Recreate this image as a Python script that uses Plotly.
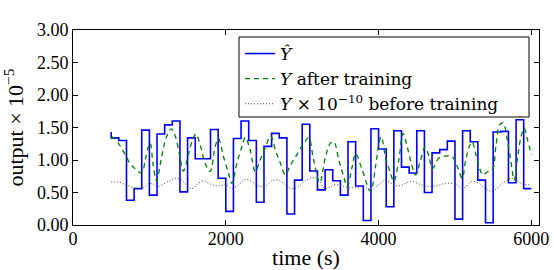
import plotly.graph_objects as go

# Y-hat step series (steps-pre: value at t applies to (t-100, t])
yhat_t = [500, 600, 700, 800, 900, 1000, 1100, 1200, 1300, 1400, 1500, 1600, 1700, 1800,
          1900, 2000, 2100, 2200, 2300, 2400, 2500, 2600, 2700, 2800, 2900, 3000, 3100,
          3200, 3300, 3400, 3500, 3600, 3700, 3800, 3900, 4000, 4100, 4200, 4300, 4400,
          4500, 4600, 4700, 4800, 4900, 5000, 5100, 5200, 5300, 5400, 5500, 5600, 5700,
          5800, 5900, 6000]
yhat_v = [1.43, 1.34, 1.30, 0.38, 0.56, 1.46, 0.46, 1.40, 1.54, 1.60, 0.51, 1.34, 1.02, 1.02,
          1.47, 0.72, 0.21, 1.33, 1.60, 1.30, 0.35, 1.21, 1.41, 1.34, 0.17, 0.69, 1.55,
          0.83, 0.54, 0.85, 0.68, 0.46, 1.28, 0.60, 0.07, 1.48, 1.17, 0.28, 1.45, 0.89,
          0.80, 1.45, 0.50, 1.11, 1.16, 1.29, 0.09, 1.45, 1.28, 0.69, 0.035, 1.43, 1.44,
          0.65, 1.62, 0.56]

# Y after training
yafter_t = [500, 550, 615, 680, 745, 810, 900, 945, 985, 1010, 1050, 1095, 1160, 1225, 1285,
            1340, 1400, 1445, 1510, 1570, 1610, 1665, 1730, 1795, 1860, 1905, 1970, 2035,
            2080, 2145, 2210, 2255, 2320, 2385, 2450, 2515, 2585, 2650, 2715, 2780, 2845,
            2930, 3020, 3085, 3150, 3230, 3305, 3370, 3415, 3480, 3545, 3590, 3655, 3700,
            3785, 3895, 3960, 4005, 4035, 4090, 4155, 4200, 4265, 4320, 4375, 4440, 4485,
            4550, 4610, 4660, 4705, 4790, 4880, 4965, 5030, 5095, 5140, 5185, 5225, 5270,
            5315, 5365, 5425, 5490, 5535, 5585, 5630, 5685, 5730, 5775, 5815, 5860, 5905,
            5950, 6000]
yafter_v = [1.36, 1.33, 1.22, 1.09, 0.95, 0.87, 0.80, 1.00, 1.20, 1.26, 0.92, 0.68, 1.05, 1.36, 1.48,
            1.36, 1.05, 0.83, 1.08, 1.33, 1.40, 1.23, 0.95, 0.82, 1.20, 1.33, 1.05, 0.80,
            0.64, 0.95, 1.20, 1.35, 1.15, 0.82, 1.00, 1.18, 1.37, 1.15, 0.95, 0.77, 0.92,
            1.08, 1.26, 1.34, 1.00, 0.65, 1.05, 1.26, 1.28, 1.00, 0.74, 0.59, 0.90, 1.10,
            0.85, 0.52, 0.90, 1.26, 1.36, 1.05, 0.80, 0.67, 1.00, 1.41, 1.20, 0.90, 0.77,
            1.00, 1.20, 1.05, 0.87, 1.03, 1.06, 1.05, 0.90, 0.72, 1.00, 1.20, 1.28, 1.10,
            0.90, 0.77, 0.82, 0.85, 1.20, 1.54, 1.57, 1.31, 1.00, 0.69, 1.00, 1.33, 1.49,
            1.31, 1.08]

# Y x 1e-10 before training
ybefore_t = [500, 600, 700, 800, 880, 950, 1000, 1050, 1100, 1200, 1300, 1350, 1420, 1500,
             1560, 1650, 1720, 1800, 1900, 2000, 2080, 2170, 2255, 2340, 2430, 2520, 2605,
             2690, 2780, 2865, 2955, 3040, 3130, 3215, 3300, 3435, 3565, 3700, 3800, 3895,
             4000, 4090, 4180, 4265, 4350, 4440, 4530, 4615, 4745, 4880, 5010, 5095, 5225,
             5315, 5400, 5490, 5620, 5750, 5880, 6000]
ybefore_v = [0.66, 0.66, 0.61, 0.57, 0.56, 0.60, 0.64, 0.63, 0.59, 0.64, 0.70, 0.72, 0.69, 0.60,
             0.56, 0.65, 0.68, 0.63, 0.60, 0.62, 0.56, 0.62, 0.70, 0.67, 0.60, 0.60, 0.68,
             0.69, 0.62, 0.56, 0.59, 0.68, 0.73, 0.69, 0.56, 0.62, 0.59, 0.57, 0.60, 0.53,
             0.62, 0.69, 0.63, 0.60, 0.64, 0.67, 0.63, 0.60, 0.60, 0.64, 0.63, 0.56, 0.67,
             0.64, 0.56, 0.52, 0.64, 0.72, 0.63, 0.62]

x_ticks = [0, 2000, 4000, 6000]
y_ticks = [0.0, 0.5, 1.0, 1.5, 2.0, 2.5, 3.0]

serif = "Liberation Serif, Times New Roman, serif"
legend_font = "DejaVu Serif, serif"

fig = go.Figure()
fig.add_trace(go.Scatter(x=yhat_t, y=yhat_v, mode="lines", line_shape="vh",
                         line=dict(color="#0000ff", width=1.6),
                         name="<i>Ŷ</i>"))
fig.add_trace(go.Scatter(x=yafter_t, y=yafter_v, mode="lines", line_shape="spline",
                         line=dict(color="#008000", width=1.3, dash="5px,4px"),
                         name="<i>Y</i> after training"))
fig.add_trace(go.Scatter(x=ybefore_t, y=ybefore_v, mode="lines", line_shape="spline",
                         line=dict(color="#444444", width=1, dash="1px,2px"),
                         name="<i>Y</i> × 10<sup>−10</sup> before training"))

# legend frame (drawn as a paper-referenced box behind the legend entries)
fig.add_shape(type="rect", xref="paper", yref="paper",
              x0=(239 - 73) / 466, x1=(529 - 73) / 466,
              y0=(225 - 117) / 195, y1=(225 - 37) / 195,
              line=dict(color="black", width=1), fillcolor="white", layer="above")

fig.update_layout(
    width=554, height=270,
    margin=dict(l=73, r=15, t=30, b=45),
    paper_bgcolor="white", plot_bgcolor="white",
    font=dict(family=serif, size=18, color="black"),
    showlegend=True,
    legend=dict(x=(240 - 73) / 466, y=(225 - 36) / 195, xanchor="left", yanchor="top",
                bgcolor="rgba(0,0,0,0)", borderwidth=0,
                font=dict(family=legend_font, size=17), tracegroupgap=0,
                itemwidth=30),
    xaxis=dict(range=[0, 6100], tickvals=x_ticks, ticktext=[str(v) for v in x_ticks],
               ticks="inside", ticklen=5, tickcolor="black", mirror="ticks",
               showline=True, linecolor="black", linewidth=1, showgrid=False,
               zeroline=False, title=dict(text="time (s)", standoff=8),
               tickfont=dict(size=18), ticklabelstandoff=-3, automargin=False),
    yaxis=dict(range=[0, 3], tickvals=y_ticks, ticktext=["%.2f" % v for v in y_ticks],
               ticks="inside", ticklen=5, tickcolor="black", mirror="ticks",
               showline=True, linecolor="black", linewidth=1, showgrid=False,
               zeroline=False, title=dict(text="output × 10<sup>−5</sup>", standoff=24),
               tickfont=dict(size=18), automargin=False),
)

fig.write_html("out.html", config={"displayModeBar": False},
               post_script="document.body.style.margin='0';")
